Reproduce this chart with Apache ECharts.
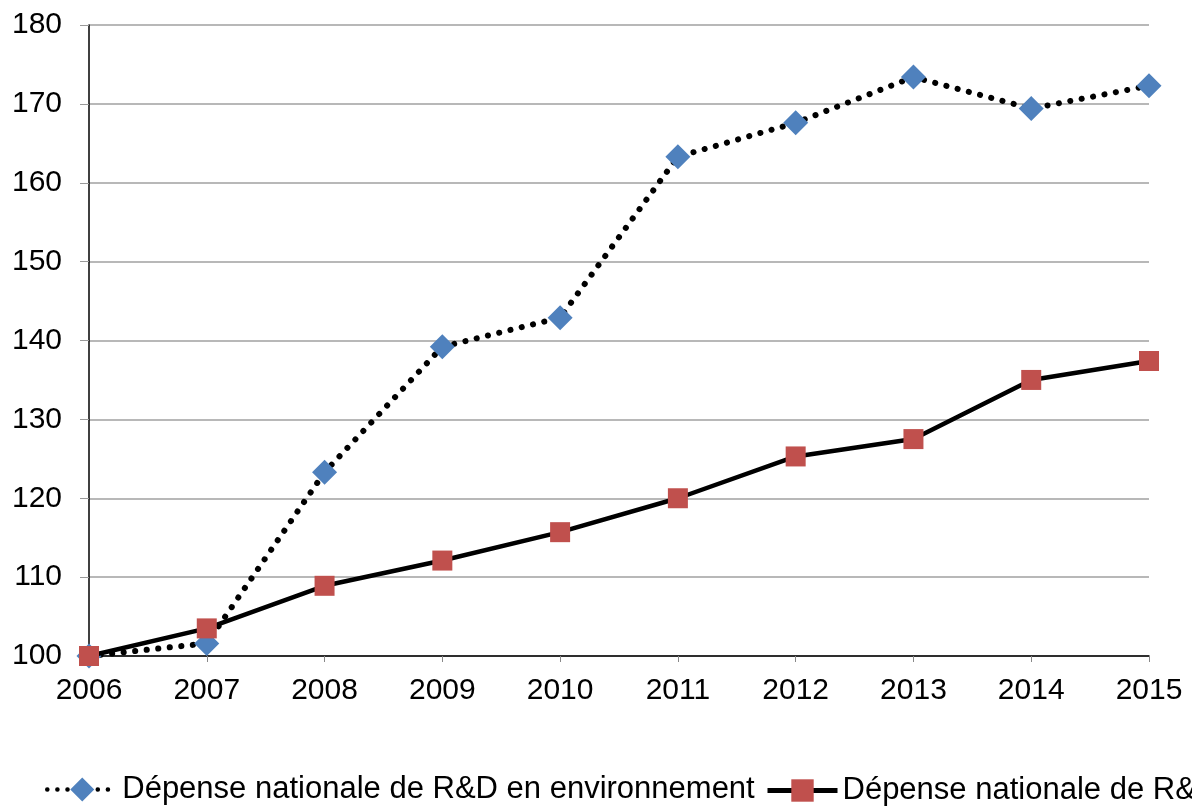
<!DOCTYPE html>
<html><head><meta charset="utf-8">
<script src="https://cdn.jsdelivr.net/npm/echarts@6/dist/echarts.min.js"></script>
<style>html,body{margin:0;padding:0;background:#fff}#c{width:1192px;height:807px}</style>
</head><body><div id="c"></div>
<script>
const years = ['2006','2007','2008','2009','2010','2011','2012','2013','2014','2015'];
const envName = 'Dépense nationale de R&D en environnement';
const totName = 'Dépense nationale de R&D';
const envValues = [100, 101.6, 123.3, 139.2, 142.9, 163.3, 167.6, 173.4, 169.4, 172.3];
const totValues = [100, 103.5, 108.9, 112.1, 115.7, 120.0, 125.3, 127.5, 135.0, 137.4];
const yMin = 100, yMax = 180, yStep = 10;

const chart = echarts.init(document.getElementById('c'), null, {renderer:'canvas'});
const font = 'Liberation Sans, Arial, sans-serif';
chart.setOption({
  animation:false,
  backgroundColor:'#fff',
  grid:{left:89, right:43, top:25, bottom:151, containLabel:false},
  legend:[{
    left:40, top:769, width:2000, itemWidth:70, itemHeight:30,
    textStyle:{fontFamily:font, fontSize:31, color:'#000'},
    lineStyle:{width:4.5, type:[0.1,10], cap:'round'},
    data:[envName]
  },{
    left:760, top:770, width:2000, itemWidth:70, itemHeight:28,
    textStyle:{fontFamily:font, fontSize:31, color:'#000'},
    lineStyle:{width:5},
    data:[totName]
  }],
  xAxis:{
    type:'category', data:years, boundaryGap:false,
    axisLine:{lineStyle:{color:'#000', width:1.5}},
    axisTick:{show:true, length:6, lineStyle:{color:'#888'}},
    axisLabel:{fontFamily:font, fontSize:30, color:'#000', margin:20},
    splitLine:{show:false}
  },
  yAxis:{
    type:'value', min:yMin, max:yMax, interval:yStep,
    axisLine:{show:true, lineStyle:{color:'#000', width:1.5}},
    axisTick:{show:true, length:9, lineStyle:{color:'#999'}},
    axisLabel:{fontFamily:font, fontSize:30, color:'#000', margin:27},
    splitLine:{lineStyle:{color:'#a0a0a0', width:1.5}}
  },
  series:[
    {name:envName, type:'line', data:envValues, symbol:'diamond', symbolSize:25,
     itemStyle:{color:'#4F81BD'},
     lineStyle:{color:'#000', width:6, type:[0.1,11.5], cap:'round'}, z:2},
    {name:totName, type:'line', data:totValues, symbol:'rect', symbolSize:20,
     itemStyle:{color:'#C0504D'},
     lineStyle:{color:'#000', width:4.5}, z:3}
  ]
});
</script></body></html>
